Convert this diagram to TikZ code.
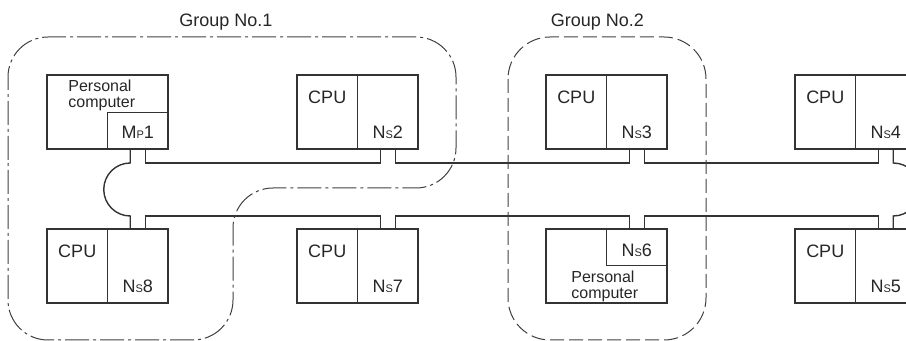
\documentclass[tikz,border=0pt]{standalone}
\usepackage{fontspec}
\setmainfont{Liberation Sans}
\usetikzlibrary{positioning}

\newcommand{\Nsid}[1]{N{\fontsize{5.5}{6}\selectfont S}#1}
\newcommand{\Mpid}[1]{M{\fontsize{5.5}{6}\selectfont P}#1}

\begin{document}
\begin{tikzpicture}[
    x=0.5pt,
    y=-0.5pt,
    font=\fontsize{9}{10}\selectfont,
    halfbox/.style={
        rectangle,
        draw=black!80,
        line width=0.7pt,
        minimum width=30.25pt,
        minimum height=37pt,
        inner sep=0pt,
        outer sep=0pt
    },
    pcbox/.style={
        rectangle,
        draw=black!80,
        line width=0.7pt,
        minimum width=60.5pt,
        minimum height=37pt,
        inner sep=0pt,
        outer sep=0pt
    },
    portbox/.style={
        rectangle,
        draw=black!80,
        line width=0.7pt,
        minimum width=30.25pt,
        minimum height=18.25pt,
        inner sep=0pt,
        outer sep=0pt
    },
    cputext/.style={
        anchor=base,
        inner sep=0pt,
        text=black!85
    },
    idtext/.style={
        anchor=base,
        inner sep=0pt,
        text=black!85
    },
    pctext/.style={
        anchor=north west,
        inner sep=0pt,
        align=left,
        font=\fontsize{8}{8}\selectfont,
        text=black!85
    },
    grptext/.style={
        anchor=base,
        inner sep=0pt,
        text=black!85
    },
    bus/.style={
        draw=black!80,
        line width=0.7pt
    },
    grpone/.style={
        draw=black!75,
        line width=0.5pt,
        rounded corners=20pt,
        dash pattern=on 12pt off 2pt on 1.5pt off 2pt
    },
    grptwo/.style={
        draw=black!75,
        line width=0.5pt,
        rounded corners=21pt,
        dash pattern=on 7pt off 2.5pt
    }
]

\useasboundingbox (0,0) rectangle (906,341);
\clip (0,0) rectangle (906,341);

% =========================================================
% Upper row stations
% =========================================================
\node[pcbox] (pc1) at (107.5,112) {};
\node[portbox, anchor=south east] (mp1) at (pc1.south east) {};
\node[pctext] (pc1t) at ([xshift=10.5pt,yshift=-2.5pt]pc1.north west) {Personal\\computer};
\node[idtext] (mp1t) at ([yshift=5pt]mp1.south) {\Mpid{1}};

\node[halfbox] (cpu2) at (327.25,112) {};
\node[halfbox, right=0pt of cpu2] (ns2) {};
\node[cputext] (cpu2t) at ([yshift=-14.3pt]cpu2.north) {CPU};
\node[idtext] (ns2t) at ([yshift=5pt]ns2.south) {\Nsid{2}};

\node[halfbox] (cpu3) at (576.25,112) {};
\node[halfbox, right=0pt of cpu3] (ns3) {};
\node[cputext] (cpu3t) at ([yshift=-14.3pt]cpu3.north) {CPU};
\node[idtext] (ns3t) at ([yshift=5pt]ns3.south) {\Nsid{3}};

\node[halfbox] (cpu4) at (825.25,112) {};
\node[halfbox, right=0pt of cpu4] (ns4) {};
\node[cputext] (cpu4t) at ([yshift=-14.3pt]cpu4.north) {CPU};
\node[idtext] (ns4t) at ([yshift=5pt]ns4.south) {\Nsid{4}};

% =========================================================
% Lower row stations
% =========================================================
\node[halfbox] (cpu8) at (77.25,266) {};
\node[halfbox, right=0pt of cpu8] (ns8) {};
\node[cputext] (cpu8t) at ([yshift=-14.3pt]cpu8.north) {CPU};
\node[idtext] (ns8t) at ([yshift=5pt]ns8.south) {\Nsid{8}};

\node[halfbox] (cpu7) at (327.25,266) {};
\node[halfbox, right=0pt of cpu7] (ns7) {};
\node[cputext] (cpu7t) at ([yshift=-14.3pt]cpu7.north) {CPU};
\node[idtext] (ns7t) at ([yshift=5pt]ns7.south) {\Nsid{7}};

\node[pcbox] (pc6) at (606.5,266) {};
\node[portbox, anchor=north east] (ns6) at (pc6.north east) {};
\node[idtext] (ns6t) at ([yshift=4.5pt]ns6.south) {\Nsid{6}};
\node[pctext] (pc6t) at ([xshift=12.5pt,yshift=-21pt]pc6.north west) {Personal\\computer};

\node[halfbox] (cpu5) at (825.25,266) {};
\node[halfbox, right=0pt of cpu5] (ns5) {};
\node[cputext] (cpu5t) at ([yshift=-14.3pt]cpu5.north) {CPU};
\node[idtext] (ns5t) at ([yshift=5pt]ns5.south) {\Nsid{5}};

% =========================================================
% Loop cable
% =========================================================
\draw[bus] ([xshift=3.75pt]mp1.south) -- ++(0,-7pt) -| ([xshift=-3.75pt]ns2.south);
\draw[bus] ([xshift=3.75pt]ns2.south) -- ++(0,-7pt) -| ([xshift=-3.75pt]ns3.south);
\draw[bus] ([xshift=3.75pt]ns3.south) -- ++(0,-7pt) -| ([xshift=-3.75pt]ns4.south);

\draw[bus] ([xshift=3.75pt]ns8.north) -- ++(0,6.5pt) -| ([xshift=-3.75pt]ns7.north);
\draw[bus] ([xshift=3.75pt]ns7.north) -- ++(0,6.5pt) -| ([xshift=-3.75pt]ns6.north);
\draw[bus] ([xshift=3.75pt]ns6.north) -- ++(0,6.5pt) -| ([xshift=-3.75pt]ns5.north);

\draw[bus] ([xshift=-3.75pt]mp1.south) -- ++(0,-7pt)
    arc[start angle=90, end angle=270, radius=13.25pt] -- ([xshift=-3.75pt]ns8.north);
\draw[bus] ([xshift=3.75pt]ns4.south) -- ++(0,-7pt)
    arc[start angle=90, end angle=-90, radius=13.25pt] -- ([xshift=3.75pt]ns5.north);

% =========================================================
% Groups
% =========================================================
\draw[grpone] (8,200) -- (8,37) -- (456,37) -- (456,188) -- (233,188)
    -- (233,340) -- (8,340) -- cycle;
\node[grptext] (grp1t) at (226,26.7) {Group No.1};

\draw[grptwo] (508,37) rectangle (706,340);
\node[grptext] (grp2t) at (597.5,26.7) {Group No.2};

\end{tikzpicture}
\end{document}
